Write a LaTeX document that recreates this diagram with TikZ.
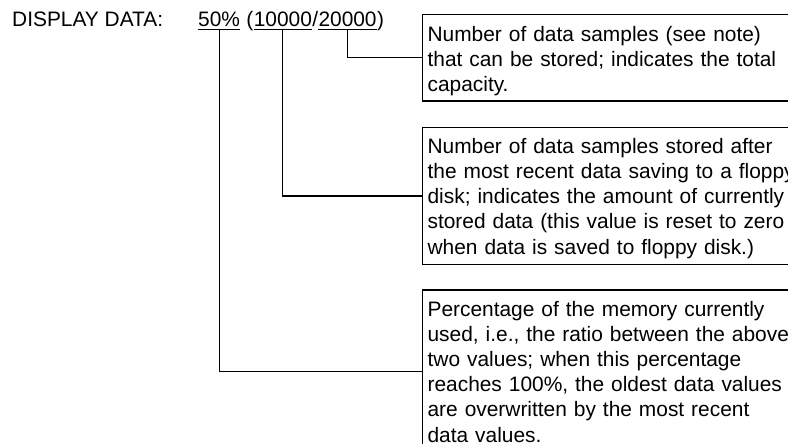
\documentclass[tikz,border=0pt]{standalone}
\usepackage{fontspec}
\setmainfont{Liberation Sans}
\usetikzlibrary{positioning}
\frenchspacing
\newcommand{\boxstrut}{\rule[-4bp]{0pt}{25bp}}
\tikzset{
	val/.style={inner sep=0pt},
	leader/.style={line width=1.2bp},
	notebox/.style={draw, line width=1.2bp, anchor=north west, inner xsep=5bp, inner ysep=5.5bp,
		text width=380bp, align=left, execute at begin node=\boxstrut, execute at end node=\boxstrut}
}
\begin{document}
\begin{tikzpicture}[x=1bp,y=-1bp,font=\fontsize{20.9bp}{25bp}\selectfont]
	\clip (0,0) rectangle (788,444);
	\fill[white] (0,0) rectangle (788,444);
	% header line
		\node[val,anchor=base west] (hdr) at (12,27) {DISPLAY DATA:};
		\node[val,anchor=base west] (pct) at (198,27) {50\%};
		\node[val,base right=6bp of pct] (lpar) {(};
		\node[val,base right=0pt of lpar] (used) {10000};
		\node[val,base right=0pt of used] (slash) {/};
		\node[val,base right=0pt of slash] (total) {20000};
		\node[val,base right=0pt of total] (rpar) {)};
	% underlines
		\foreach \v in {pct,used,total}{
			\draw[leader] ([yshift=-2.5bp]\v.base west) -- ([yshift=-2.5bp]\v.base east);
			}
	% notes
		\node[notebox] (totbox) at (422,14) {Number of data samples (see note)\\
			that can be stored; indicates the total\\
			capacity.};
		\node[notebox,below=25bp of totbox] (usedbox) {Number of data samples stored after\\
			the most recent data saving to a floppy\\
			disk; indicates the amount of currently\\
			stored data (this value is reset to zero\\
			when data is saved to floppy disk.)};
		\node[notebox,below=24bp of usedbox] (pctbox) {Percentage of the memory currently\\
			used, i.e., the ratio between the above\\
			two values; when this percentage\\
			reaches 100\%, the oldest data values\\
			are overwritten by the most recent\\
			data values.};
	% leaders
		\draw[leader] ([yshift=-2.5bp]total.base) |- (totbox.west);
		\draw[leader] ([yshift=-2.5bp]used.base) |- (usedbox.west);
		\draw[leader] ([yshift=-2.5bp]pct.base) |- (pctbox.west);
\end{tikzpicture}
\end{document}
